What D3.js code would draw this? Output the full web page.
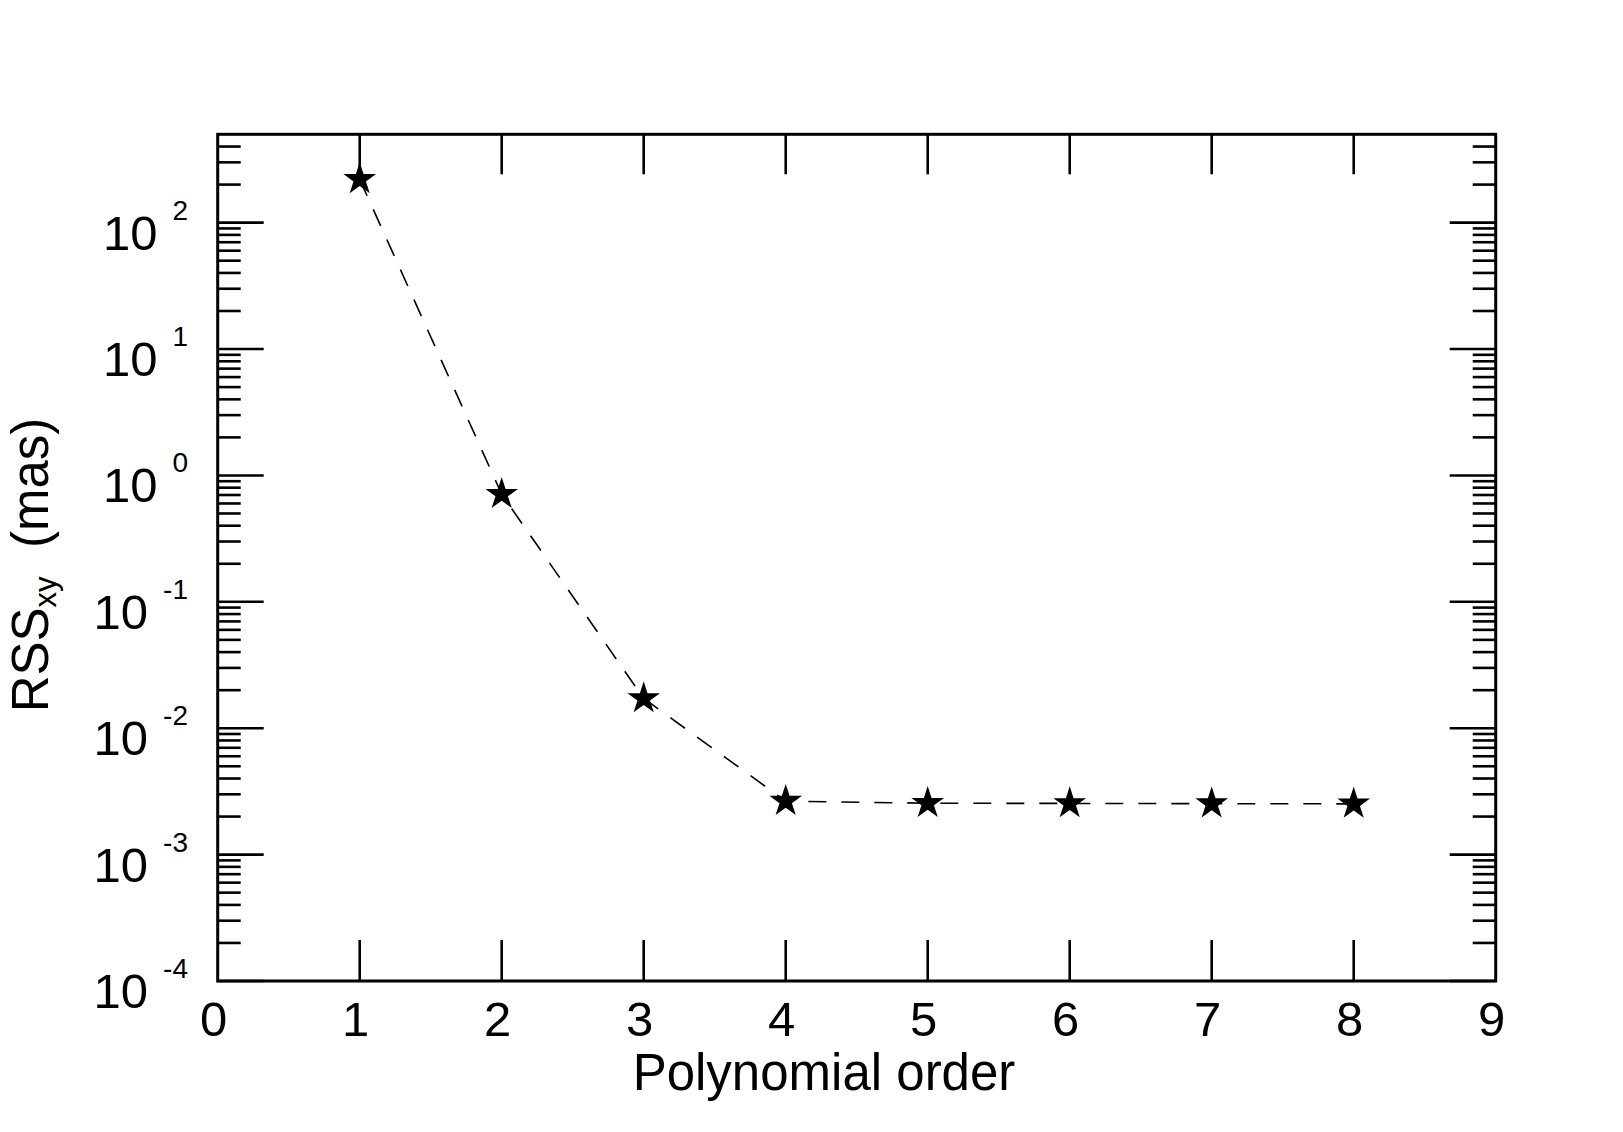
<!DOCTYPE html>
<html>
<head>
<meta charset="utf-8">
<script src="https://cdn.jsdelivr.net/npm/d3@7"></script>
<style>
  html, body { margin: 0; padding: 0; background: #fff; }
  text { font-family: "Liberation Sans", Arial, sans-serif; fill: #000; }
</style>
</head>
<body>
<svg id="chart" width="1623" height="1132"></svg>
<script>
// ---- data ----
const orders = [1, 2, 3, 4, 5, 6, 7, 8];
const rss = [220, 0.71, 0.0172, 0.00265, 0.00255, 0.00254, 0.00253, 0.00252];
const xTickValues = [0, 1, 2, 3, 4, 5, 6, 7, 8, 9];
const yExponents = [-4, -3, -2, -1, 0, 1, 2];
const xTitle = "Polynomial order";

// ---- layout ----
const W = 1623, H = 1132;
const L = 217.7, R = 1495.7, T = 134.3, B = 981;

const svg = d3.select("#chart");
svg.append("rect").attr("width", W).attr("height", H).attr("fill", "#fff");

const x = d3.scaleLinear().domain([0, 9]).range([L, R]);
const y = d3.scaleLog().domain([1e-4, 500]).range([B, T]);

// minor ticks for log axis
const minorVals = [];
for (let e = -4; e <= 2; e++) {
  for (let m = 2; m <= 9; m++) {
    const v = m * Math.pow(10, e);
    if (v < 500) minorVals.push(v);
  }
}
const majorVals = yExponents.map(e => Math.pow(10, e));

const tickG = svg.append("g").attr("stroke", "#000").attr("stroke-width", 2.6);

function yTicks(x0, dir) {
  tickG.selectAll(null).data(majorVals).enter().append("line")
    .attr("x1", x0).attr("x2", x0 + dir * 46)
    .attr("y1", d => y(d)).attr("y2", d => y(d));
  tickG.selectAll(null).data(minorVals).enter().append("line")
    .attr("x1", x0).attr("x2", x0 + dir * 23)
    .attr("y1", d => y(d)).attr("y2", d => y(d));
}
yTicks(L, 1);
yTicks(R, -1);

tickG.selectAll(null).data(orders).enter().append("line")
  .attr("x1", d => x(d)).attr("x2", d => x(d))
  .attr("y1", B).attr("y2", B - 41);
tickG.selectAll(null).data(orders).enter().append("line")
  .attr("x1", d => x(d)).attr("x2", d => x(d))
  .attr("y1", T).attr("y2", T + 40);

// frame
svg.append("rect")
  .attr("x", L).attr("y", T).attr("width", R - L).attr("height", B - T)
  .attr("fill", "none").attr("stroke", "#000").attr("stroke-width", 3);

// x tick labels
svg.append("g").selectAll("text").data(xTickValues).enter().append("text")
  .attr("x", d => x(d) - 4).attr("y", B + 55)
  .attr("text-anchor", "middle").attr("font-size", 49)
  .text(d => d);

// y tick labels: 10^e
const yl = svg.append("g").selectAll("text").data(yExponents).enter().append("text")
  .attr("x", 188).attr("y", d => y(Math.pow(10, d)) + 27)
  .attr("text-anchor", "end").attr("font-size", 49);
yl.append("tspan").text("10");
yl.append("tspan").attr("dx", 15).attr("dy", -30).attr("font-size", 28).text(d => d);

// x title
svg.append("text").attr("x", 824).attr("y", 1090).attr("text-anchor", "middle")
  .attr("font-size", 51).text(xTitle);

// y title
const yt = svg.append("text")
  .attr("transform", "translate(48," + 565 + ") rotate(-90)")
  .attr("text-anchor", "middle").attr("font-size", 51);
yt.append("tspan").text("RSS");
yt.append("tspan").attr("font-size", 31).attr("dy", 8).text("xy");
yt.append("tspan").attr("dy", -8).text("\u00a0\u00a0(mas)");

// dashed line
const line = d3.line().x((d, i) => x(orders[i])).y(d => y(d));
svg.append("path").datum(rss).attr("d", line)
  .attr("fill", "none").attr("stroke", "#000").attr("stroke-width", 1.6)
  .attr("stroke-dasharray", "18,15");

// stars
const star = d3.symbol().type(d3.symbolStar).size(330);
svg.append("g").selectAll("path").data(rss).enter().append("path")
  .attr("d", star)
  .attr("transform", (d, i) => "translate(" + x(orders[i]) + "," + y(d) + ")")
  .attr("fill", "#000");
</script>
</body>
</html>
